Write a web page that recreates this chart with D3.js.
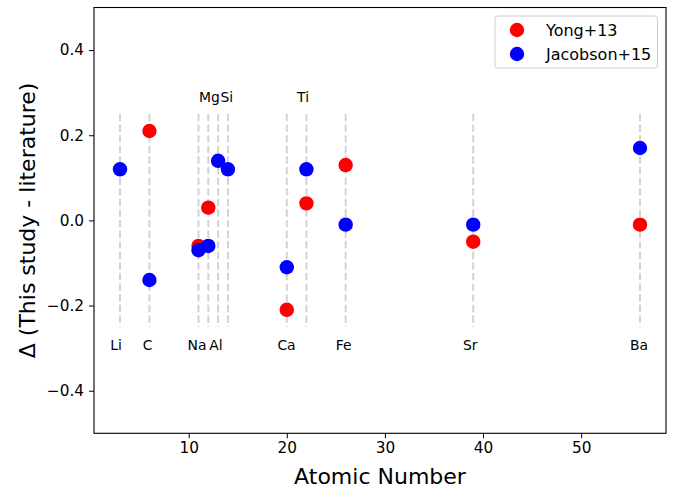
<!DOCTYPE html>
<html><head><meta charset="utf-8">
<script src="https://cdn.jsdelivr.net/npm/d3@7"></script>
<style>body{margin:0;background:#fff}svg{display:block;font-family:"DejaVu Sans",sans-serif}</style>
</head><body><svg id="c" width="673" height="488"></svg>
<script>
const elements = ["Li","C","Na","Mg","Al","Si","Ca","Ti","Fe","Sr","Ba"];
const atomicNumbers = [3,6,11,12,13,14,20,22,26,39,56];
const labelX = [2.6,5.82,10.85,12.11,12.78,13.88,19.97,21.66,25.8,38.7,55.9];
const labelTop = ["Mg","Si","Ti"];
const yongZ = [6,11,12,20,22,26,39,56];
const yongVals = [0.21,-0.06,0.03,-0.21,0.04,0.13,-0.05,-0.01];
const jacZ = [3,6,11,12,13,14,20,22,26,39,56];
const jacVals = [0.12,-0.14,-0.07,-0.06,0.14,0.12,-0.11,0.12,-0.01,-0.01,0.17];
const xTicks = [10,20,30,40,50];
const yTicks = [-0.4,-0.2,0.0,0.2,0.4];

const svg = d3.select("#c");
const L=94,R=666,T=7.5,B=433.3;
const x = d3.scaleLinear().domain([0.35,58.65]).range([L,R]);
const y = d3.scaleLinear().domain([-0.5,0.5]).range([B,T]);

// dashed guide lines
svg.append("g").selectAll("line").data(atomicNumbers).join("line")
  .attr("x1",d=>x(d)).attr("x2",d=>x(d)).attr("y1",y(0.25)).attr("y2",y(-0.25))
  .attr("stroke","#d3d3d3").attr("stroke-width",2).attr("stroke-dasharray","7.4,3.2");

// element labels
svg.append("g").selectAll("text").data(elements).join("text")
  .attr("x",(d,i)=>x(labelX[i]))
  .attr("y",d=>labelTop.includes(d)? y(0.289):y(-0.293))
  .attr("dy","0.35em").attr("text-anchor","middle")
  .attr("font-size",13.9).attr("fill","#000").text(d=>d);

// points
svg.append("g").selectAll("circle").data(yongZ).join("circle")
  .attr("cx",d=>x(d)).attr("cy",(d,i)=>y(yongVals[i])).attr("r",7.2).attr("fill","#ff0000");
svg.append("g").selectAll("circle").data(jacZ).join("circle")
  .attr("cx",d=>x(d)).attr("cy",(d,i)=>y(jacVals[i])).attr("r",7.2).attr("fill","#0000ff");

// axes
const xa = svg.append("g").attr("transform",`translate(0,${B})`)
  .call(d3.axisBottom(x).tickValues(xTicks).tickFormat(d3.format("d")).tickSize(5).tickPadding(4));
const ya = svg.append("g").attr("transform",`translate(${L},0)`)
  .call(d3.axisLeft(y).tickValues(yTicks).tickFormat(d=>d3.format(".1f")(d).replace("-","\u2212")).tickSize(5).tickPadding(5));
[xa,ya].forEach(a=>{a.select(".domain").remove();a.selectAll("text").attr("font-size",15.3).attr("font-family","DejaVu Sans").attr("fill","#000");a.selectAll("line").attr("stroke","#000").attr("stroke-width",1);});

svg.append("rect").attr("x",L).attr("y",T).attr("width",R-L).attr("height",B-T)
  .attr("fill","none").attr("stroke","#000").attr("stroke-width",1.1);

svg.append("text").attr("x",(L+R)/2).attr("y",484).attr("text-anchor","middle")
  .attr("font-size",22).text("Atomic Number");
svg.append("text").attr("transform",`translate(35,${(T+B)/2}) rotate(-90)`).attr("text-anchor","middle")
  .attr("font-size",22).text("\u0394 (This study - literature)");

// legend
const series = [{name:"Yong+13",color:"#ff0000"},{name:"Jacobson+15",color:"#0000ff"}];
const lg = svg.append("g");
lg.append("rect").attr("x",495).attr("y",16).attr("width",162.5).attr("height",52).attr("rx",3)
  .attr("fill","#fff").attr("fill-opacity",0.8).attr("stroke","#cccccc").attr("stroke-width",1);
series.forEach((s,i)=>{
  lg.append("circle").attr("cx",517).attr("cy",30+i*24).attr("r",7.2).attr("fill",s.color);
  lg.append("text").attr("x",546).attr("y",30+i*24).attr("dy","0.36em").attr("font-size",16).text(s.name);
});
</script></body></html>
